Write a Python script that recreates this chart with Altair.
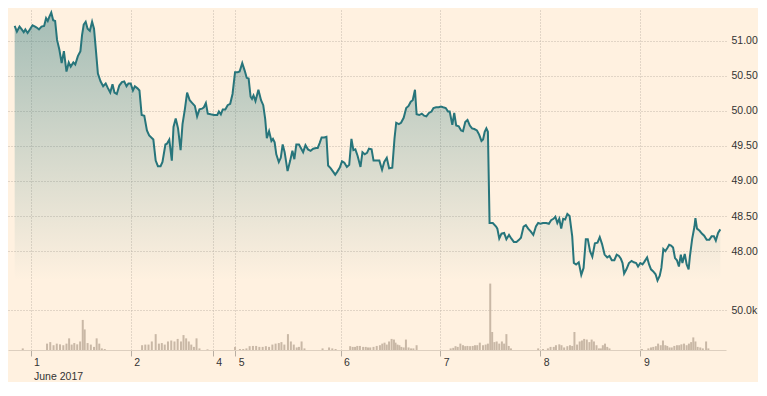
import altair as alt
import pandas as pd

# ---- price series (time in trading hours from 1 June 00:00, price) ----
price_t = [-3.80, -3.26, -2.63, -2.10, -1.63, -1.24, -0.70, -0.16, 0.47, 1.10, 1.63, 2.03, 2.63, 3.26, 3.73, 4.13, 4.50, 4.97, 5.43, 5.90,
           6.36, 6.92, 7.46, 8.00, 8.62, 9.16, 9.63, 10.26, 10.72, 11.35, 11.96, 12.35, 12.75, 13.22, 13.68, 14.22, 14.76, 15.22, 15.69, 16.15,
           16.78, 17.41, 18.02, 18.49, 19.11, 19.65, 20.12, 20.68, 21.28, 21.91, 22.45, 23.01, 23.47, 24.01, 24.55, 25.01, 25.64, 26.11, 26.64, 27.27,
           27.90, 28.44, 29.44, 30.00, 30.54, 31.17, 31.63, 32.33, 32.70, 33.26, 33.87, 34.27, 34.80, 35.36, 35.97, 36.43, 36.99, 37.53, 38.16, 38.77,
           39.39, 39.93, 40.49, 41.10, 41.56, 42.03, 42.49, 43.19, 43.99, 44.76, 45.15, 45.62, 46.08, 46.69, 47.25, 47.86, 48.42, 49.02, 49.65, 50.12,
           50.75, 51.35, 51.82, 52.28, 52.75, 53.08, 53.45, 53.92, 54.62, 55.25, 55.78, 56.25, 56.64, 57.18, 57.74, 58.11, 58.51, 58.91, 59.51, 59.98,
           60.44, 60.91, 61.61, 62.24, 62.77, 63.24, 63.71, 64.34, 64.80, 65.34, 65.90, 66.50, 67.13, 67.76, 68.46, 68.84, 69.30, 69.77, 70.40, 70.93,
           71.33, 71.96, 72.56, 73.03, 73.50, 74.13, 74.66, 75.22, 75.83, 76.39, 76.92, 77.39, 77.86, 78.39, 79.09, 79.56, 80.11, 80.65, 81.12, 81.75,
           82.22, 82.82, 83.61, 84.26, 84.78, 85.39, 85.95, 86.71, 87.25, 87.65, 88.27, 88.81, 89.44, 90.05, 90.61, 91.14, 91.61, 92.15, 92.54, 93.17,
           93.78, 94.34, 94.87, 95.50, 96.11, 96.58, 97.21, 97.83, 98.37, 98.90, 99.53, 100.07, 100.47, 101.10, 101.56, 102.03, 102.64, 103.20, 103.66, 104.20,
           104.74, 105.30, 105.83, 106.37, 107.00, 107.53, 108.09, 108.47, 108.86, 109.26, 109.63, 110.03, 110.80, 111.59, 111.89, 112.35, 112.89, 113.52, 114.06, 114.69,
           115.22, 115.85, 116.48, 117.09, 117.55, 118.18, 118.72, 119.28, 119.88, 120.51, 121.14, 121.68, 122.21, 122.84, 123.61, 124.24, 124.78, 125.34, 125.80, 126.27,
           126.74, 127.20, 127.67, 128.14, 128.67, 129.21, 129.84, 130.23, 130.77, 131.40, 132.01, 132.56, 133.10, 133.57, 134.11, 134.66, 135.27, 135.90, 136.44, 136.99,
           137.60, 138.23, 138.77, 139.33, 139.94, 140.50, 141.04, 141.50, 141.90, 142.28, 142.83, 143.44, 144.07, 144.60, 145.16, 145.62, 146.16, 146.69, 147.16, 147.79,
           148.26, 148.72, 149.26, 149.82, 150.28, 150.82, 151.21, 151.68, 152.15, 152.61, 153.08, 153.54, 154.01, 154.48, 154.94, 155.41, 155.87, 156.25, 156.81, 157.27,
           157.74, 158.04, 158.58, 159.14, 159.37, 159.75, 160.37, 160.91, 161.47, 162.07, 162.70, 163.24, 163.80, 164.26, 164.80, 165.34]
price_v = [51.21, 51.13, 51.20, 51.16, 51.12, 51.16, 51.11, 51.16, 51.22, 51.20, 51.18, 51.16, 51.20, 51.21, 51.32, 51.28, 51.34, 51.40, 51.29, 51.28,
           51.01, 50.87, 50.68, 50.85, 50.56, 50.69, 50.63, 50.69, 50.66, 50.78, 50.85, 51.08, 51.23, 51.27, 51.17, 51.14, 51.27, 51.17, 50.85, 50.53,
           50.42, 50.35, 50.39, 50.33, 50.26, 50.38, 50.26, 50.24, 50.36, 50.41, 50.42, 50.35, 50.39, 50.39, 50.29, 50.35, 50.32, 50.29, 49.94, 49.93,
           49.72, 49.65, 49.59, 49.29, 49.21, 49.21, 49.27, 49.52, 49.53, 49.59, 49.29, 49.77, 49.89, 49.75, 49.44, 49.81, 50.02, 50.26, 50.15, 50.11,
           50.07, 49.92, 50.02, 50.03, 50.05, 50.11, 49.96, 49.95, 49.94, 49.94, 49.99, 49.95, 50.02, 50.02, 50.08, 50.10, 50.24, 50.55, 50.55, 50.56,
           50.68, 50.57, 50.47, 50.46, 50.20, 50.17, 50.22, 50.14, 50.30, 50.15, 50.08, 49.88, 49.61, 49.71, 49.57, 49.60, 49.55, 49.38, 49.27, 49.33,
           49.52, 49.41, 49.14, 49.29, 49.43, 49.31, 49.52, 49.52, 49.47, 49.41, 49.51, 49.45, 49.43, 49.46, 49.47, 49.47, 49.54, 49.62, 49.62, 49.63,
           49.22, 49.18, 49.13, 49.09, 49.13, 49.19, 49.28, 49.26, 49.20, 49.23, 49.60, 49.44, 49.45, 49.36, 49.20, 49.41, 49.38, 49.40, 49.46, 49.45,
           49.29, 49.29, 49.29, 49.16, 49.27, 49.33, 49.18, 49.19, 49.61, 49.83, 49.81, 49.83, 49.90, 50.04, 50.07, 50.13, 50.15, 50.30, 49.95, 49.94,
           49.96, 49.93, 49.92, 49.97, 49.99, 50.04, 50.05, 50.05, 50.06, 50.05, 50.04, 49.99, 49.99, 49.80, 49.97, 49.79, 49.78, 49.72, 49.71, 49.84,
           49.87, 49.79, 49.75, 49.74, 49.72, 49.66, 49.57, 49.59, 49.70, 49.75, 49.70, 48.40, 48.40, 48.35, 48.32, 48.18, 48.25, 48.26, 48.17, 48.23,
           48.18, 48.13, 48.13, 48.16, 48.19, 48.35, 48.37, 48.32, 48.28, 48.23, 48.35, 48.40, 48.39, 48.40, 48.40, 48.39, 48.44, 48.46, 48.49, 48.40,
           48.46, 48.32, 48.46, 48.45, 48.53, 48.50, 48.21, 47.83, 47.81, 47.84, 47.66, 47.76, 48.17, 48.17, 48.00, 47.92, 48.11, 48.12, 48.20, 48.10,
           47.95, 47.91, 47.93, 47.87, 47.87, 47.95, 47.93, 47.89, 47.83, 47.68, 47.74, 47.83, 47.86, 47.84, 47.83, 47.78, 47.83, 47.81, 47.85, 47.91,
           47.81, 47.74, 47.71, 47.67, 47.58, 47.65, 47.76, 48.03, 48.00, 48.04, 48.09, 48.08, 48.05, 47.90, 47.87, 47.78, 47.95, 47.83, 47.96, 47.81,
           47.74, 47.92, 48.17, 48.35, 48.47, 48.32, 48.29, 48.25, 48.22, 48.16, 48.16, 48.21, 48.21, 48.15, 48.26, 48.31]

# ---- volume series ----
vol_t = [-1.86, 3.96, 4.73, 5.52, 6.29, 7.06, 7.86, 8.62, 9.25, 9.86, 10.49, 11.19, 11.89, 12.52, 12.98, 13.68, 14.45, 15.22, 15.85, 16.48,
         17.09, 17.79, 26.74, 27.51, 28.28, 29.07, 30.00, 30.77, 31.47, 32.17, 32.94, 33.73, 34.50, 35.27, 36.06, 36.67, 37.30, 37.93, 38.53, 39.16,
         39.79, 40.49, 42.42, 49.02, 50.19, 50.98, 51.75, 52.52, 53.31, 54.08, 54.85, 55.64, 56.41, 57.18, 57.97, 58.74, 59.51, 60.14, 60.84, 61.70,
         62.40, 63.10, 63.80, 64.34, 64.97, 65.66, 70.00, 71.56, 72.33, 73.12, 76.62, 77.23, 77.79, 78.32, 78.95, 79.72, 80.35, 80.89, 81.42, 82.21,
         82.98, 83.75, 84.31, 84.85, 85.38, 85.94, 86.55, 87.11, 87.48, 87.95, 88.41, 88.88, 89.44, 89.98, 90.61, 91.21, 91.77, 92.54, 100.70, 101.33,
         101.87, 102.40, 103.03, 103.66, 104.20, 104.73, 105.36, 105.99, 106.53, 107.07, 107.69, 108.46, 109.09, 109.63, 110.19, 110.65, 111.19, 111.73, 112.35, 112.98,
         113.52, 114.06, 114.62, 115.15, 121.68, 122.84, 124.01, 124.64, 125.41, 125.94, 126.74, 127.27, 127.90, 128.67, 129.30, 129.84, 130.37, 131.00, 131.63, 132.17,
         132.70, 133.33, 133.96, 134.50, 135.04, 135.66, 136.24, 136.71, 137.18, 137.69, 138.23, 138.77, 146.55, 148.09, 148.72, 149.26, 149.88, 150.42, 151.05, 151.59,
         152.15, 152.61, 153.15, 153.69, 154.31, 154.94, 155.48, 156.01, 156.64, 157.27, 157.81, 158.34, 158.86, 159.37, 159.90, 160.53, 161.14, 161.93, 162.47]
vol_v = [2000, 8000, 9900, 6000, 8000, 7100, 6000, 8000, 14600, 6800, 8700, 7100, 10700, 37700, 25800, 8700, 6800, 3900, 14600, 8000,
         2000, 1200, 6000, 6800, 6800, 10700, 19900, 8000, 8700, 6800, 10700, 11900, 10700, 13900, 10700, 18700, 14600, 10700, 6800, 3900,
         14600, 2000, 800, 3900, 1200, 1200, 2000, 4800, 5100, 5100, 3900, 3900, 4800, 3900, 6800, 8000, 8700, 9900, 6800, 19900,
         10700, 6800, 3200, 3900, 10700, 2000, 2000, 3200, 2000, 1200, 4800, 3900, 3900, 5100, 5100, 3900, 3900, 3200, 3200, 3900,
         5100, 6000, 8000, 9200, 6800, 10700, 13900, 13100, 9200, 6800, 6000, 3900, 3200, 13100, 3200, 2000, 2000, 6000, 2000, 2700,
         4800, 3900, 8000, 6000, 4800, 5100, 4800, 5100, 6000, 6000, 9200, 6000, 6800, 8000, 83300, 22600, 9900, 10700, 8000, 10700,
         8000, 19900, 5100, 2000, 2000, 1200, 2000, 3900, 3900, 6000, 7100, 6000, 3200, 4800, 6000, 5100, 22600, 6800, 10700, 11900,
         13900, 13100, 9900, 13100, 10700, 6000, 2000, 2000, 6000, 8000, 3900, 2000, 1200, 2000, 3200, 3900, 4800, 8000, 6000, 11900,
         6000, 5100, 3200, 3200, 5100, 6000, 6000, 7100, 8000, 6000, 8000, 9900, 15800, 10700, 3900, 3200, 2000, 10700, 2000]

# ---- axis ticks ----
day_ticks = [0, 24, 43.7, 49.07, 74.3, 98.2, 122.2, 146.2]
day_labels = ["1", "2", "4", "5", "6", "7", "8", "9"]
month_label = "June 2017"
price_ticks = [48, 48.5, 49, 49.5, 50, 50.5, 51]
vol_ticks = [50000]

BG = "#fff1e0"
LINE = "#27757b"
GRID = "#c4b9ac"
TEXT = "#333333"
FONT = "Liberation Sans"

price_df = pd.DataFrame({"t": price_t, "price": price_v})
vol_df = pd.DataFrame({"t": vol_t, "volume": vol_v})

# label expression for the day axis
expr = "''"
for v, lab in reversed(list(zip(day_ticks, day_labels))):
    txt = f"['{lab}', '{month_label}']" if lab == day_labels[0] else f"'{lab}'"
    expr = f"abs(datum.value - {v}) < 0.01 ? {txt} : ({expr})"

x_scale = alt.Scale(domain=[-4.2, 165.5], nice=False, zero=False)
x_axis = alt.Axis(values=day_ticks, labelExpr=expr, title=None, grid=True,
                  gridColor=GRID, gridDash=[1, 2], gridWidth=1,
                  tickSize=6, tickColor="#b8aea2", domain=True, domainColor="#ddcfbf",
                  labelAlign="left", labelBaseline="top", labelPadding=1, labelOffset=3,
                  labelLineHeight=14, labelFontSize=10.5, labelFont=FONT, labelColor=TEXT,
                  labelOverlap=False, labelFlush=False)
x_enc = alt.X("t:Q", scale=x_scale, axis=x_axis)

price_scale = alt.Scale(domain=[46.59, 51.437], nice=False, zero=False)
price_axis = alt.Axis(orient="right", values=price_ticks, format=".2f", title=None,
                      ticks=False, domain=False, grid=True, gridColor=GRID, gridDash=[1, 2],
                      labelPadding=5, labelFontSize=10.5, labelFont=FONT, labelColor=TEXT)

vol_scale = alt.Scale(domain=[0, 426400], nice=False)
vol_axis = alt.Axis(orient="right", values=vol_ticks, format=".3s", title=None,
                    ticks=False, domain=False, grid=True, gridColor=GRID, gridDash=[1, 2],
                    labelPadding=5, labelFontSize=10.5, labelFont=FONT, labelColor=TEXT)

area = alt.Chart(price_df).mark_area(
    color=alt.Gradient(
        gradient="linear",
        stops=[alt.GradientStop(color="rgba(39,117,123,0.42)", offset=0),
               alt.GradientStop(color="rgba(39,117,123,0)", offset=1)],
        x1=1, x2=1, y1=0, y2=1),
).encode(
    x=x_enc,
    y=alt.Y("price:Q", scale=price_scale, axis=price_axis),
    y2=alt.datum(47.58),
)

line = alt.Chart(price_df).mark_line(color=LINE, strokeWidth=2).encode(
    x=x_enc,
    y=alt.Y("price:Q", scale=price_scale, axis=price_axis),
)

bars = alt.Chart(vol_df).mark_bar(size=2, color="#c9b8a6").encode(
    x=x_enc,
    y=alt.Y("volume:Q", scale=vol_scale, axis=vol_axis),
)

price_layer = alt.layer(area, line)

chart = alt.layer(price_layer, bars).resolve_scale(y="independent").properties(
    width=718, height=340, background=BG, padding=0
).configure_view(stroke=None)

chart.save("out.html", embed_options={"renderer": "svg", "actions": False})
